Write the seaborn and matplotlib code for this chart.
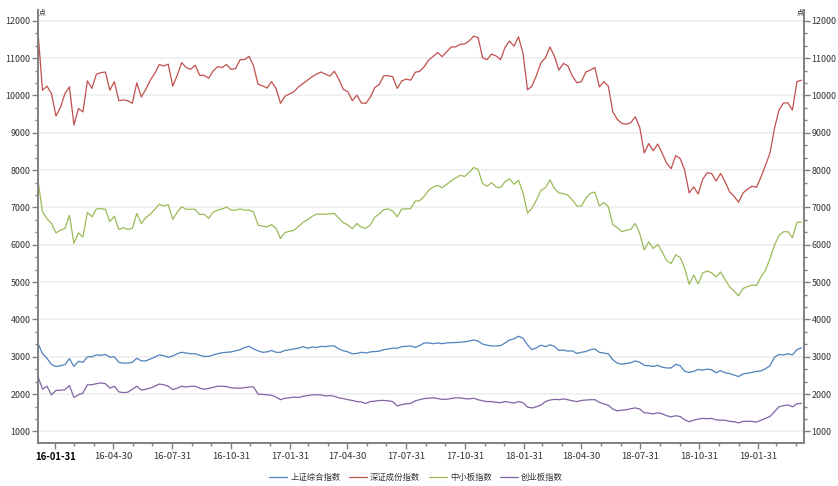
import pandas as pd
import matplotlib
matplotlib.use('Agg')
import matplotlib.pyplot as plt
from matplotlib.ticker import MultipleLocator, FixedLocator
import seaborn as sns

# weekly closes, 2016-01-04 .. 2019-04-08
dates = pd.date_range('2016-01-04', periods=171, freq='7D')

sh_composite = [
    3360, 3080, 2960, 2790, 2740, 2760, 2790, 2950, 2740, 2880,
    2850, 3000, 3000, 3050, 3040, 3060, 2990, 3000, 2850, 2830,
    2830, 2850, 2960, 2890, 2890, 2940, 2990, 3050, 3030, 2990,
    3020, 3080, 3120, 3100, 3080, 3080, 3040, 3010, 3010, 3050,
    3080, 3110, 3120, 3130, 3160, 3190, 3250, 3280, 3210, 3160,
    3120, 3130, 3170, 3120, 3120, 3170, 3190, 3210, 3230, 3270,
    3230, 3260, 3250, 3280, 3270, 3290, 3290, 3210, 3160, 3130,
    3080, 3090, 3120, 3100, 3130, 3140, 3150, 3190, 3210, 3230,
    3230, 3270, 3280, 3290, 3250, 3300, 3370, 3370, 3350, 3370,
    3350, 3370, 3380, 3380, 3390, 3400, 3420, 3450, 3420, 3340,
    3310, 3290, 3290, 3300, 3370, 3450, 3480, 3550, 3500, 3320,
    3190, 3240, 3310, 3270, 3320, 3280, 3170, 3180, 3150, 3160,
    3090, 3120, 3140, 3190, 3210, 3120, 3100, 3080, 2920, 2830,
    2800, 2820, 2840, 2890, 2850, 2770, 2760, 2740, 2770, 2720,
    2700, 2700, 2800, 2760, 2610, 2580, 2610, 2660, 2640, 2670,
    2650, 2570, 2630, 2570, 2550, 2510, 2470, 2540, 2560, 2580,
    2610, 2620, 2680, 2760, 2990, 3060, 3050, 3080, 3050, 3190,
    3240]

sz_component = [
    11700, 10140, 10250, 10050, 9450, 9680, 10050, 10230, 9210, 9650,
    9560, 10390, 10190, 10570, 10610, 10630, 10140, 10370, 9860, 9880,
    9860, 9790, 10340, 9960, 10160, 10410, 10590, 10830, 10790, 10840,
    10250, 10540, 10880, 10750, 10700, 10810, 10540, 10540, 10460, 10660,
    10770, 10750, 10830, 10700, 10720, 10960, 10960, 11050, 10790, 10300,
    10260, 10200, 10370, 10190, 9790, 9980, 10040, 10100, 10230, 10320,
    10410, 10500, 10570, 10630, 10570, 10520, 10650, 10430, 10160, 10100,
    9860, 10010, 9800, 9790, 9950, 10210, 10300, 10530, 10530, 10500,
    10190, 10390, 10440, 10410, 10620, 10650, 10770, 10950, 11050, 11150,
    11040, 11170, 11300, 11300, 11370, 11380, 11460, 11590, 11550, 11010,
    10960, 11110, 11060, 10960, 11290, 11460, 11320, 11570, 11130, 10150,
    10250, 10540, 10880, 11010, 11300, 11050, 10680, 10860, 10790, 10520,
    10340, 10370, 10630, 10680, 10750, 10230, 10370, 10250, 9560, 9360,
    9250, 9230, 9270, 9430, 9140, 8460, 8710, 8520, 8700, 8450,
    8180, 8040, 8390, 8310, 8000, 7390, 7550, 7360, 7750, 7930,
    7910, 7710, 7910, 7690, 7420, 7300, 7140, 7390, 7490, 7570,
    7540, 7820, 8130, 8460, 9120, 9610, 9800, 9800, 9610, 10370,
    10410]

sme_board = [
    7730, 6880, 6700, 6570, 6320, 6390, 6440, 6790, 6040, 6320,
    6210, 6870, 6750, 6960, 6970, 6950, 6620, 6770, 6410, 6460,
    6410, 6440, 6840, 6570, 6730, 6820, 6950, 7090, 7040, 7080,
    6680, 6870, 7020, 6950, 6950, 6950, 6810, 6820, 6710, 6870,
    6930, 6960, 7010, 6930, 6930, 6960, 6930, 6930, 6880, 6530,
    6500, 6480, 6540, 6440, 6170, 6330, 6360, 6390, 6490, 6600,
    6670, 6760, 6820, 6820, 6820, 6830, 6840, 6710, 6590, 6530,
    6430, 6570, 6470, 6440, 6530, 6740, 6830, 6940, 6960, 6900,
    6750, 6960, 6960, 6970, 7170, 7180, 7300, 7460, 7550, 7590,
    7530, 7620, 7710, 7790, 7860, 7830, 7940, 8070, 8020, 7640,
    7570, 7660, 7550, 7530, 7690, 7770, 7620, 7730, 7390, 6850,
    6980, 7200, 7460, 7530, 7740, 7510, 7390, 7370, 7330, 7200,
    7040, 7040, 7250, 7380, 7410, 7040, 7130, 7020, 6540, 6460,
    6350, 6390, 6410, 6570, 6300, 5860, 6080, 5900, 6010, 5810,
    5570, 5500, 5730, 5660, 5370, 4940, 5190, 4950, 5240, 5300,
    5250, 5140, 5270, 5070, 4870, 4760, 4630, 4830, 4880, 4920,
    4910, 5140, 5320, 5630, 5990, 6250, 6350, 6350, 6190, 6600,
    6610]

chinext = [
    2470, 2130, 2210, 1980, 2100, 2100, 2120, 2230, 1910, 1980,
    2030, 2250, 2250, 2280, 2300, 2280, 2160, 2210, 2060, 2040,
    2050, 2130, 2210, 2110, 2130, 2160, 2210, 2270, 2250, 2210,
    2120, 2160, 2210, 2190, 2210, 2210, 2160, 2130, 2150, 2180,
    2210, 2210, 2200, 2170, 2160, 2160, 2170, 2190, 2190, 2000,
    1990, 1980, 1970, 1920, 1850, 1890, 1900, 1920, 1910, 1940,
    1960, 1980, 1980, 1980, 1950, 1960, 1940, 1900, 1880, 1850,
    1830, 1800, 1790, 1750, 1800, 1810, 1830, 1830, 1820, 1800,
    1680, 1720, 1740, 1750, 1820, 1850, 1880, 1890, 1900, 1880,
    1860, 1860, 1880, 1900, 1900, 1880, 1870, 1890, 1850, 1820,
    1800, 1800, 1780, 1770, 1800, 1780, 1760, 1800, 1770, 1650,
    1630, 1660, 1710, 1800, 1840, 1860, 1850, 1870, 1850, 1820,
    1800, 1830, 1840, 1850, 1850, 1780, 1740, 1700, 1600, 1550,
    1570, 1580, 1610, 1630, 1600, 1500, 1490, 1470, 1500, 1470,
    1420, 1390, 1420, 1400, 1310, 1260, 1300, 1330, 1350, 1340,
    1350, 1310, 1300, 1300, 1270, 1260, 1230, 1270, 1270, 1270,
    1250, 1300, 1350, 1400, 1530, 1660, 1690, 1710, 1660, 1740,
    1750]

names = ['上证综合指数', '深证成份指数', '中小板指数', '创业板指数']
colors = ['#4f81bd', '#c0504d', '#9bbb59', '#8064a2']
tick_labels = ['16-01-31', '16-04-30', '16-07-31', '16-10-31', '17-01-31',
               '17-04-30', '17-07-31', '17-10-31', '18-01-31', '18-04-30',
               '18-07-31', '18-10-31', '19-01-31']

sns.set_style('white')
plt.rcParams['font.family'] = ['Noto Sans CJK SC', 'DejaVu Sans']

df = pd.DataFrame({'date': dates, names[0]: sh_composite, names[1]: sz_component,
                   names[2]: sme_board, names[3]: chinext})
df = df.melt('date', var_name='index', value_name='value')

fig = plt.figure(figsize=(8.38, 4.86), dpi=100)
ax = fig.add_axes([38 / 838, 43 / 486, 766 / 838, 433 / 486])
sns.lineplot(data=df, x='date', y='value', hue='index', hue_order=names,
             palette=colors, linewidth=0.9, ax=ax)

ax.set_xlim(pd.Timestamp('2016-01-04'), pd.Timestamp('2019-04-12'))
ax.set_ylim(690, 12290)
ax.set_xlabel('')
ax.set_ylabel('')

# axes / ticks
tick_pos = pd.to_datetime(tick_labels, format='%y-%m-%d')
ax.xaxis.set_major_locator(FixedLocator([matplotlib.dates.date2num(d) for d in tick_pos]))
ax.set_xticklabels(tick_labels)
minor = pd.date_range('2016-01-31', '2019-03-31', freq='ME')
ax.xaxis.set_minor_locator(FixedLocator([matplotlib.dates.date2num(d) for d in minor]))
ax.yaxis.set_major_locator(MultipleLocator(1000))
ax.yaxis.set_minor_locator(MultipleLocator(1000 / 3))
ax.tick_params(axis='both', which='major', direction='out', length=4, width=1,
               color='#808080', labelsize=6.4, labelcolor='#333333', pad=1.5)
ax.tick_params(axis='both', which='minor', direction='out', length=2.5, width=1,
               color='#808080')
ax.tick_params(axis='y', which='both', left=True, right=True, labelright=True)
ax.tick_params(axis='x', which='both', bottom=True, labelsize=6.8, pad=2.5)
ax.set_yticks(range(1000, 12001, 1000))
ax.set_yticklabels([str(v) for v in range(1000, 12001, 1000)])
first = ax.get_xticklabels()[0]
first.set_fontweight('bold')
first.set_color('black')

for side in ['left', 'right', 'bottom']:
    ax.spines[side].set_color('#808080')
    ax.spines[side].set_linewidth(1.4)
ax.spines['top'].set_visible(False)

ax.yaxis.grid(True, color='#ededed', linewidth=1.1)
ax.set_axisbelow(True)

fig.text(42 / 838, 1 - 12 / 486, '点', fontsize=5, ha='center', va='center')
fig.text(800 / 838, 1 - 12 / 486, '点', fontsize=5, ha='center', va='center')

sns.move_legend(ax, 'center', bbox_to_anchor=(0.4935, -0.079), ncol=4,
                frameon=False, title=None, fontsize=6, handlelength=2.2,
                handletextpad=0.35, columnspacing=1.0)
for t in ax.get_legend().get_texts():
    t.set_color('#333333')

fig.savefig('out.png', dpi=100)
